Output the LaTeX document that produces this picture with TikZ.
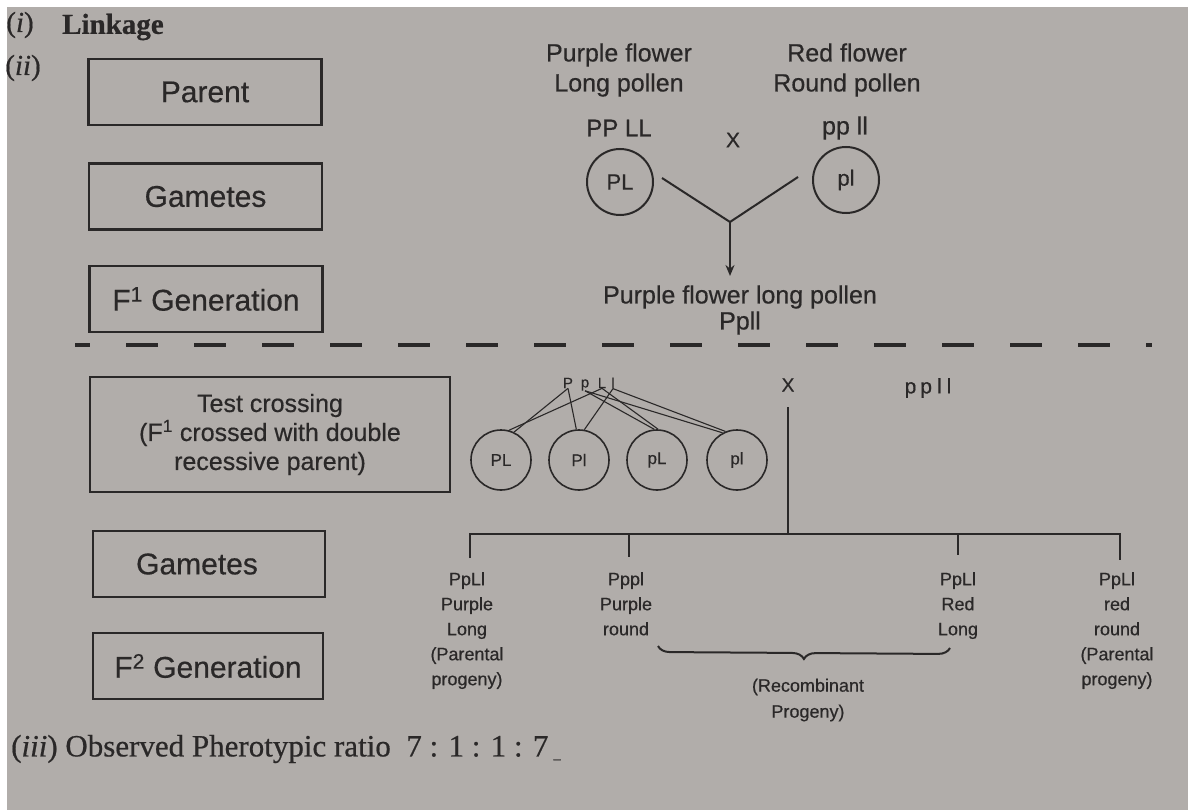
\documentclass[tikz,border=0pt]{standalone}
\usepackage{fontspec}
\setmainfont{Liberation Serif}[FakeBold=0.6]
\newfontfamily\sanf{Liberation Sans}[FakeBold=0.5]
\usetikzlibrary{arrows.meta,decorations.pathreplacing}
\definecolor{paper}{RGB}{177,173,170}
\definecolor{ink}{RGB}{42,40,40}
\begin{document}
\begin{tikzpicture}[x=1pt,y=-1pt,
  labelbox/.style={draw=ink, line width=2.5pt, minimum width=233pt, minimum height=66pt, inner sep=0pt, text=ink, font=\sanf\fontsize{30}{34}\selectfont},
  gamA/.style={circle, draw=ink, line width=2pt, minimum size=66pt, inner sep=0pt, text=ink, font=\sanf\fontsize{22}{24}\selectfont},
  gamB/.style={circle, draw=ink, line width=1.6pt, minimum size=60pt, inner sep=0pt, text=ink, font=\sanf\fontsize{17}{20}\selectfont},
  lbl/.style={inner sep=0pt, text=ink, align=center, font=\sanf\fontsize{25}{30}\selectfont},
  sml/.style={inner sep=0pt, text=ink, align=center, anchor=north, font=\sanf\fontsize{18}{25}\selectfont},
  ser/.style={inner sep=0pt, text=ink, font=\fontsize{29}{32}\selectfont},
  conn/.style={draw=ink, line width=2pt},
  fine/.style={draw=ink, line width=1.1pt},
]
\useasboundingbox (0,0) rectangle (1188,810);
\fill[white] (0,0) rectangle (1188,810);
\fill[paper] (7,7) rectangle (1188,810);

% headings
\node[ser] (hi) at (20,25) {(\textit{i})};
\node[ser, anchor=west] (hlink) at (62,27) {\bfseries Linkage};
\node[ser] (hii) at (23,68) {(\textit{ii})};

% left boxes, upper part
\node[labelbox] (parent) at (205,92) {Parent};
\node[labelbox] (gamA) at (205.5,196.5) {Gametes};
\node[labelbox] (fone) at (206,299) {F\textsuperscript{1} Generation};

% upper cross
\node[lbl] (pflong) at (619,70) {Purple flower\\Long pollen};
\node[lbl] (rfround) at (847,70) {Red flower\\Round pollen};
\node[lbl, font=\sanf\fontsize{24}{28}\selectfont] (gPPLL) at (619,128) {PP LL};
\node[lbl, font=\sanf\fontsize{21}{24}\selectfont] (xone) at (733,140) {X};
\node[lbl] (gppll) at (845,128) {pp ll};
\node[gamA] (cPL) at (620,182) {PL};
\node[gamA] (cpl) at (846,180) {pl};
\coordinate (la) at (662,178);
\coordinate (lb) at (798,177);
\coordinate (join) at (730,222);
\coordinate (arrend) at (730,276);
\draw[conn] (la) -- (join) -- (lb);
\draw[conn, -{Stealth[length=11pt,width=9pt]}] (join) -- (arrend);
\node[lbl, font=\sanf\fontsize{25}{26}\selectfont] (fres) at (740,310) {Purple flower long pollen\\Ppll};

% dashed separator
\coordinate (dsa) at (75,345);
\coordinate (dsb) at (1152,345);
\draw[ink, line width=4pt, dash pattern=on 32pt off 36pt, dash phase=17pt] (dsa) -- (dsb);

% left boxes, lower part
\node[labelbox, minimum width=360pt, minimum height=115pt, align=center, font=\sanf\fontsize{25}{29}\selectfont] (test) at (270,434.5) {Test crossing\\(F\textsuperscript{1} crossed with double\\recessive parent)};
\node[labelbox, minimum width=232pt] (gamB) at (209,564) {Gametes\hspace*{24pt}};
\node[labelbox, minimum width=230pt] (ftwo) at (208,666) {F\textsuperscript{2} Generation};

% test cross gametes
\node[lbl, font=\sanf\fontsize{15}{18}\selectfont] (lP) at (568,383) {P};
\node[lbl, font=\sanf\fontsize{15}{18}\selectfont] (lp) at (585,385) {p};
\node[lbl, font=\sanf\fontsize{15}{18}\selectfont] (lL) at (602,383) {L};
\node[lbl, font=\sanf\fontsize{15}{18}\selectfont] (ll) at (613,383) {l};
\node[gamB] (tPL) at (501,460) {PL};
\node[gamB] (tPl) at (579,460) {Pl};
\node[gamB] (tpL) at (657,460) {pL};
\node[gamB] (tpl) at (737,460) {pl};
\draw[fine] (lP.south) -- (tPL.65);
\draw[fine] (lP.south) -- (tPl.95);
\draw[fine] (lL.south) -- (tPL.75);
\draw[fine] (ll.south) -- (tPl.80);
\draw[fine] (lp.south) -- (tpL.95);
\draw[fine] (lL.south) -- (tpL.88);
\draw[fine] (lp.south) -- (tpl.118);
\draw[fine] (ll.south) -- (tpl.112);

\node[lbl, font=\sanf\fontsize{19}{22}\selectfont] (xtwo) at (788,385) {X};
\node[lbl, font=\sanf\fontsize{21}{22}\selectfont] (gpp) at (928,388) {p\hspace{4pt}p\hspace{5pt}l\hspace{5pt}l};

% progeny tree
\coordinate (xdown) at (788,407);
\coordinate (hub) at (788,534);
\coordinate (t1) at (470,534);
\coordinate (t2) at (629,534);
\coordinate (t3) at (958,534);
\coordinate (t4) at (1120,534);
\coordinate (d1) at (470,558);
\coordinate (d2) at (629,557);
\coordinate (d3) at (958,555);
\coordinate (d4) at (1120,560);
\draw[conn] (xdown) -- (hub);
\draw[conn] (d1) -- (t1) -- (t4) -- (d4);
\draw[conn] (t2) -- (d2);
\draw[conn] (t3) -- (d3);

\node[sml] (o1) at (467,572) {PpLl\\Purple\\Long\\(Parental\\progeny)};
\node[sml] (o2) at (626,572) {Pppl\\Purple\\round};
\node[sml] (o3) at (958,572) {PpLl\\Red\\Long};
\node[sml] (o4) at (1117,572) {PpLl\\red\\round\\(Parental\\progeny)};

\coordinate (bra) at (658,646);
\coordinate (brb) at (950,648);
\draw[ink, line width=2pt, decorate, decoration={brace, mirror, amplitude=12pt}] (bra) -- (brb);
\node[sml, anchor=center, font=\sanf\fontsize{18}{26}\selectfont] (rec) at (808,700) {(Recombinant\\Progeny)};

% ratio
\node[ser, anchor=west, font=\fontsize{31}{34}\selectfont] (ratio) at (11,749) {(\textit{iii}) Observed Pherotypic ratio\ \ 7 : 1 : 1 : 7\,\raisebox{-2pt}{\fontsize{14}{14}\selectfont\_}};
\end{tikzpicture}
\end{document}
